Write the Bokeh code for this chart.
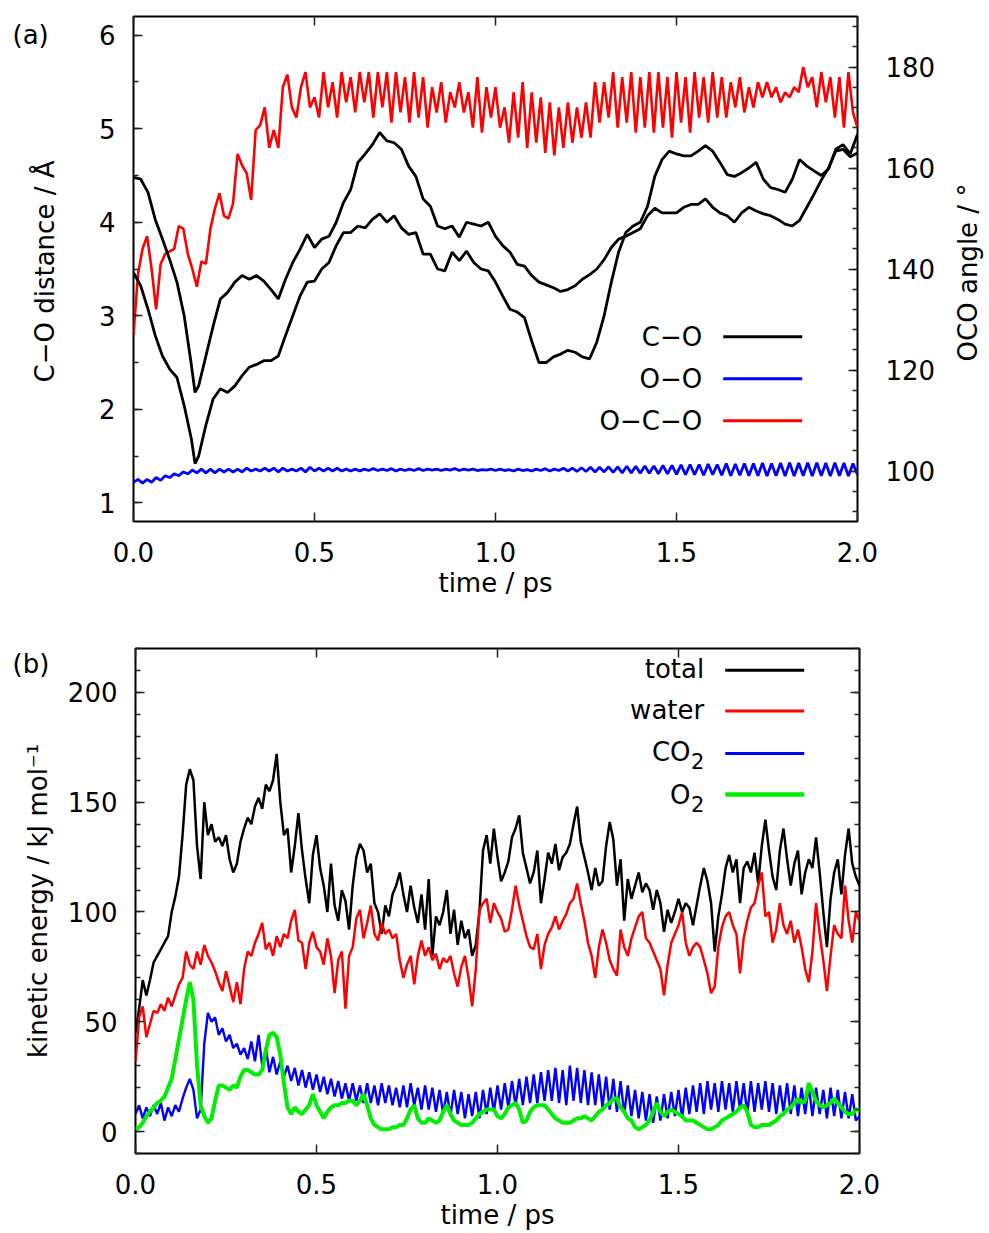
import numpy as np
from bokeh.plotting import figure
from bokeh.models import (Range1d, LinearAxis, SingleIntervalTicker, PrintfTickFormatter,
                          CustomJSTickFormatter, Label, Arrow)
from bokeh.layouts import column, row
from bokeh.embed import file_html
from bokeh.resources import INLINE

# ---------------- data: panel (a) ----------------
t_co = [round(0.02 * i, 2) for i in range(101)]
t_co.insert(9, 0.17)
co_1 = [4.48, 4.46, 4.32, 4.03, 3.82, 3.60, 3.36, 3.00, 2.47, 2.18,
        2.25, 2.57, 2.89, 3.18, 3.25, 3.36, 3.43, 3.39, 3.43, 3.37,
        3.28, 3.18, 3.39, 3.57, 3.71, 3.87, 3.73, 3.82, 3.85, 4.00,
        4.21, 4.35, 4.64, 4.73, 4.83, 4.96, 4.87, 4.85, 4.78, 4.60,
        4.49, 4.25, 4.17, 3.96, 3.93, 3.96, 3.84, 4.00, 3.98, 3.96,
        4.00, 3.85, 3.75, 3.68, 3.55, 3.53, 3.43, 3.36, 3.33, 3.30,
        3.26, 3.28, 3.32, 3.39, 3.44, 3.50, 3.60, 3.73, 3.82, 3.85,
        3.89, 3.93, 4.07, 4.15, 4.10, 4.10, 4.10, 4.16, 4.19, 4.19,
        4.25, 4.16, 4.10, 4.07, 4.00, 4.10, 4.16, 4.12, 4.09, 4.07,
        4.03, 3.98, 3.96, 4.02, 4.16, 4.30, 4.45, 4.58, 4.76, 4.78,
        4.70, 4.74]
co_2 = [3.46, 3.32, 3.07, 2.79, 2.57, 2.43, 2.34, 2.04, 1.68, 1.42,
        1.50, 1.83, 2.11, 2.22, 2.18, 2.25, 2.36, 2.45, 2.48, 2.52,
        2.52, 2.57, 2.79, 3.00, 3.21, 3.36, 3.37, 3.50, 3.57, 3.75,
        3.89, 3.89, 3.96, 3.94, 4.03, 4.09, 4.00, 4.07, 3.94, 3.87,
        3.89, 3.66, 3.66, 3.50, 3.48, 3.68, 3.59, 3.69, 3.57, 3.50,
        3.48, 3.36, 3.21, 3.07, 3.04, 2.98, 2.73, 2.50, 2.50, 2.56,
        2.59, 2.63, 2.61, 2.56, 2.54, 2.72, 3.00, 3.36, 3.68, 3.89,
        3.96, 4.00, 4.17, 4.49, 4.67, 4.76, 4.73, 4.71, 4.71, 4.76,
        4.82, 4.76, 4.64, 4.51, 4.49, 4.53, 4.58, 4.64, 4.46, 4.37,
        4.35, 4.32, 4.46, 4.67, 4.60, 4.55, 4.50, 4.57, 4.78, 4.83,
        4.73, 4.94]
t_fast = np.linspace(0.0, 2.0, 161)
oo = [1.22, 1.25, 1.21, 1.25, 1.22, 1.27, 1.24, 1.29, 1.27, 1.31,
      1.29, 1.33, 1.31, 1.35, 1.32, 1.36, 1.32, 1.36, 1.32, 1.36,
      1.33, 1.36, 1.33, 1.36, 1.33, 1.37, 1.34, 1.36, 1.34, 1.37,
      1.34, 1.37, 1.33, 1.37, 1.34, 1.36, 1.34, 1.37, 1.33, 1.38,
      1.34, 1.37, 1.34, 1.37, 1.34, 1.37, 1.34, 1.36, 1.34, 1.36,
      1.34, 1.36, 1.345, 1.365, 1.345, 1.36, 1.345, 1.365, 1.34, 1.36,
      1.345, 1.36, 1.345, 1.365, 1.345, 1.36, 1.35, 1.36, 1.345, 1.36,
      1.35, 1.365, 1.345, 1.36, 1.35, 1.36, 1.345, 1.355, 1.35, 1.36,
      1.345, 1.36, 1.345, 1.355, 1.34, 1.36, 1.345, 1.355, 1.34, 1.36,
      1.345, 1.365, 1.34, 1.36, 1.345, 1.37, 1.34, 1.37, 1.335, 1.375,
      1.335, 1.38, 1.33, 1.38, 1.33, 1.385, 1.325, 1.385, 1.32, 1.39,
      1.32, 1.39, 1.315, 1.395, 1.315, 1.395, 1.31, 1.40, 1.31, 1.40,
      1.305, 1.405, 1.30, 1.41, 1.30, 1.41, 1.295, 1.415, 1.30, 1.41,
      1.295, 1.42, 1.29, 1.415, 1.295, 1.42, 1.29, 1.42, 1.29, 1.425,
      1.285, 1.42, 1.29, 1.425, 1.285, 1.43, 1.285, 1.425, 1.29, 1.43,
      1.285, 1.43, 1.29, 1.425, 1.285, 1.43, 1.29, 1.425, 1.285, 1.42,
      1.30]
oco = [127, 139, 144, 146.5, 140, 132, 141, 143, 143.5, 144,
       148.5, 148, 143, 140, 136.5, 141.5, 141, 148, 152, 155,
       150.5, 150, 153, 162.8, 160.5, 159, 153.7, 167.5, 168.5, 172,
       164, 167.5, 164, 176, 178.5, 172, 170, 176, 179, 172,
       174, 170, 179, 172, 177, 170, 179, 173, 178, 171,
       179, 173, 179, 170, 179, 172, 179, 169, 179, 171,
       178, 169, 179, 170, 178, 168, 176, 171, 177, 169,
       175, 172, 177, 171, 175, 168, 178, 167, 176, 170,
       176, 168, 172, 165, 175, 166, 177, 164, 175, 165,
       174, 163, 173, 162.5, 172, 164, 173, 165, 172, 166,
       173, 166, 177, 169, 177, 170, 179, 168, 178, 169,
       179, 167, 178, 168, 179, 167, 179, 168, 178, 166,
       179, 169, 178, 167, 179, 170, 178, 169, 179, 170,
       178, 170, 177, 172, 178, 171, 176, 172, 177, 174,
       177, 174, 176, 173, 175, 174, 176, 175, 180, 176,
       178, 172, 179, 173, 178, 170, 178, 168, 179, 171,
       168]

# ---------------- data: panel (b) ----------------
t_b = np.linspace(0.0, 2.0, 201)
ke_total = [45, 56, 69, 62, 69, 77, 80, 83, 86, 89,
            100, 107, 116, 135, 158, 165, 160, 130, 115, 150,
            135, 140, 132, 134, 130, 135, 124, 118, 122, 132,
            138, 143, 140, 148, 152, 147, 158, 155, 160, 172,
            150, 135, 138, 118, 130, 145, 128, 115, 104, 126,
            135, 120, 112, 100, 122, 103, 96, 110, 105, 92,
            112, 125, 131, 128, 118, 122, 104, 100, 90, 103,
            98, 108, 112, 118, 108, 100, 112, 102, 95, 108,
            92, 115, 80, 98, 94, 100, 110, 90, 101, 85,
            96, 88, 92, 80, 85, 100, 128, 135, 122, 138,
            125, 114, 118, 123, 134, 138, 144, 127, 120, 113,
            118, 128, 104, 115, 127, 122, 131, 119, 125, 127,
            131, 140, 148, 132, 125, 118, 110, 120, 112, 114,
            130, 141, 133, 112, 124, 96, 115, 106, 112, 118,
            109, 113, 110, 101, 110, 104, 91, 101, 95, 100,
            106, 100, 104, 102, 94, 103, 112, 120, 114, 104,
            82, 98, 108, 120, 126, 118, 124, 104, 120, 123,
            118, 127, 113, 130, 142, 128, 116, 110, 128, 138,
            124, 112, 122, 128, 108, 118, 124, 120, 134, 118,
            100, 84, 106, 118, 124, 108, 126, 138, 122, 116,
            112]
ke_water = [32, 52, 57, 43, 49, 55, 54, 58, 55, 61,
            57, 62, 67, 70, 82, 76, 74, 82, 76, 85,
            80, 77, 73, 68, 64, 73, 66, 59, 68, 58,
            74, 82, 80, 86, 90, 95, 83, 86, 80, 89,
            84, 90, 88, 96, 101, 87, 86, 74, 86, 91,
            84, 82, 76, 88, 80, 63, 78, 82, 56, 80,
            84, 97, 101, 88, 95, 103, 90, 87, 95, 90,
            92, 88, 90, 78, 70, 76, 80, 67, 80, 87,
            80, 84, 78, 81, 74, 79, 77, 80, 72, 66,
            75, 80, 70, 57, 74, 101, 104, 106, 95, 104,
            100, 97, 91, 92, 101, 112, 103, 96, 89, 84,
            83, 90, 74, 85, 90, 93, 98, 92, 96, 99,
            104, 106, 113, 104, 96, 86, 80, 70, 84, 92,
            86, 78, 74, 71, 92, 84, 80, 88, 93, 98,
            100, 88, 86, 82, 78, 74, 62, 76, 86, 90,
            94, 100, 86, 80, 84, 86, 84, 78, 72, 63,
            66, 84, 93, 98, 100, 94, 90, 72, 88, 96,
            102, 104, 112, 118, 98, 100, 86, 92, 104, 94,
            90, 96, 86, 92, 84, 74, 68, 82, 104, 90,
            78, 64, 80, 94, 90, 88, 112, 96, 86, 100,
            96]
ke_co2 = [8, 12, 6, 11, 7, 12, 8, 13, 5, 11,
          7, 12, 9, 15, 20, 24, 19, 6, 10, 40,
          54, 50, 52, 44, 47, 41, 44, 38, 40, 35,
          38, 33, 41, 32, 44, 30, 38, 27, 34, 26,
          32, 25, 30, 23, 29, 21, 28, 20, 27, 19,
          26, 18, 25, 17, 24, 16, 23, 15, 22, 14,
          22, 14, 21, 13, 22, 13, 21, 12, 22, 13,
          21, 12, 20, 11, 21, 11, 22, 12, 20, 10,
          21, 10, 20, 9, 19, 8, 18, 7, 19, 8,
          18, 6, 17, 7, 18, 6, 19, 8, 20, 9,
          21, 10, 22, 11, 23, 12, 24, 12, 25, 13,
          26, 13, 27, 14, 28, 14, 29, 13, 28, 12,
          30, 14, 29, 13, 28, 12, 27, 12, 26, 11,
          25, 10, 24, 9, 23, 8, 21, 7, 19, 6,
          18, 5, 17, 4, 16, 5, 17, 6, 18, 7,
          19, 6, 20, 8, 21, 9, 22, 8, 23, 10,
          22, 9, 23, 10, 22, 9, 23, 10, 22, 8,
          23, 9, 22, 10, 23, 9, 22, 8, 21, 9,
          22, 8, 21, 7, 20, 8, 21, 7, 20, 8,
          19, 6, 20, 7, 19, 6, 18, 6, 17, 5,
          7]
ke_o2 = [1, 2, 4, 7, 9, 11, 13, 14, 16, 20,
         24, 33, 42, 51, 60, 68, 60, 30, 12, 7,
         4, 6, 14, 21, 21, 20, 19, 21, 20, 25,
         28, 28, 27, 26, 26, 28, 37, 44, 45, 43,
         35, 22, 11, 8, 11, 9, 8, 10, 12, 17,
         12, 9, 6, 9, 11, 12, 12, 13, 13, 14,
         14, 12, 14, 17, 12, 6, 3, 2, 1, 1,
         1, 2, 2, 3, 3, 6, 10, 12, 6, 4,
         4, 6, 5, 4, 5, 9, 12, 8, 5, 4,
         3, 3, 3, 4, 6, 8, 9, 10, 10, 10,
         7, 6, 8, 11, 12, 13, 10, 4, 5, 9,
         11, 12, 12, 12, 10, 8, 6, 5, 4, 4,
         4, 5, 6, 6, 7, 6, 5, 7, 9, 10,
         12, 13, 15, 15, 11, 9, 6, 5, 2, 1,
         2, 3, 5, 9, 13, 9, 7, 9, 10, 9,
         8, 7, 5, 5, 5, 4, 3, 2, 1, 1,
         2, 3, 5, 6, 7, 8, 9, 11, 12, 9,
         3, 2, 2, 3, 3, 3, 4, 5, 7, 8,
         10, 11, 13, 15, 13, 14, 22, 18, 14, 12,
         11, 12, 13, 15, 13, 11, 9, 8, 8, 10,
         10]

legend_a = ["C\u2212O", "O\u2212O", "O\u2212C\u2212O"]
legend_a_colors = ["black", "#0000ff", "#ff0000"]

# ---------------- styling ----------------
FONT = "DejaVu Sans"
TS = "26px"
FW, FH = 724, 505
GREEN = "#00ee00"
LEFT_STRIP, RIGHT_STRIP = 64, 42
BL, BR = 69, 90
A_TOP, A_BOT = 16, 90
B_TOP, B_BOT = 37, 78
HA = A_TOP + FH + A_BOT
HB = B_TOP + FH + B_BOT


def style_axis(ax):
    ax.axis_line_color = None
    ax.major_tick_in = 9
    ax.major_tick_out = 0
    ax.minor_tick_in = 5
    ax.minor_tick_out = 0
    ax.major_tick_line_color = "#222222"
    ax.major_tick_line_width = 1.5
    ax.minor_tick_line_color = "#222222"
    ax.minor_tick_line_width = 1.5
    ax.major_label_text_font = FONT
    ax.major_label_text_font_size = TS
    ax.major_label_text_color = "black"
    ax.axis_label_text_font = FONT
    ax.axis_label_text_font_size = TS
    ax.axis_label_text_font_style = "normal"
    ax.axis_label_text_color = "black"


def blank_axis(ax):
    ax.formatter = CustomJSTickFormatter(code="return ''")
    ax.major_label_text_font_size = "0px"
    ax.major_label_standoff = 0


def make_fig(y0, y1, top, bottom):
    p = figure(frame_width=FW, frame_height=FH, x_range=Range1d(0, 2), y_range=Range1d(y0, y1),
               output_backend="svg", toolbar_location=None,
               min_border_left=BL, min_border_right=BR,
               min_border_top=top, min_border_bottom=bottom)
    p.xgrid.visible = False
    p.ygrid.visible = False
    p.outline_line_color = "black"
    p.outline_line_width = 2
    p.outline_line_alpha = 1.0
    p.background_fill_color = "white"
    p.border_fill_color = "white"
    xa = p.xaxis[0]
    style_axis(xa)
    xa.ticker = SingleIntervalTicker(interval=0.5, num_minor_ticks=0)
    xa.minor_tick_line_color = None
    xa.formatter = PrintfTickFormatter(format="%.1f")
    xa.axis_label = "time / ps"
    xa.major_label_standoff = 20
    xa.axis_label_standoff = 3
    top_ax = LinearAxis(ticker=SingleIntervalTicker(interval=0.5, num_minor_ticks=0))
    style_axis(top_ax)
    top_ax.minor_tick_line_color = None
    blank_axis(top_ax)
    p.add_layout(top_ax, "above")
    ya = p.yaxis[0]
    style_axis(ya)
    ya.major_label_standoff = 18
    return p


def strip(width, height):
    s = figure(width=width, height=height, x_range=Range1d(0, 1), y_range=Range1d(0, 1),
               output_backend="svg", toolbar_location=None, title=None,
               x_axis_location=None, y_axis_location=None,
               min_border_left=0, min_border_right=0, min_border_top=0, min_border_bottom=0)
    s.outline_line_color = None
    s.grid.visible = False
    s.background_fill_color = "white"
    s.border_fill_color = "white"
    return s


def txt(p, x, y, s, size=TS, align="right", baseline="middle", angle=0.0):
    p.add_layout(Label(x=x, y=y, x_units="screen", y_units="screen", text=s,
                       text_font=FONT, text_font_size=size, text_color="black",
                       text_align=align, text_baseline=baseline, angle=angle))


def key_line(p, y, color, width):
    p.add_layout(Arrow(end=None, x_start=589.7, y_start=y, x_end=668.7, y_end=y,
                       start_units="screen", end_units="screen",
                       line_color=color, line_width=width))


# ---------------- panel (a) ----------------
pa = make_fig(0.8, 6.2, A_TOP, A_BOT)
pa.yaxis[0].ticker = SingleIntervalTicker(interval=1, num_minor_ticks=2)
pa.extra_y_ranges = {"ang": Range1d(90, 190)}
ax_r = LinearAxis(y_range_name="ang", ticker=SingleIntervalTicker(interval=20, num_minor_ticks=5))
style_axis(ax_r)
ax_r.major_label_standoff = 28
pa.add_layout(ax_r, "right")

pa.line(t_fast, oco, line_color="#ff0000", line_width=2.6, y_range_name="ang")
pa.line(t_co, co_1, line_color="black", line_width=2.8)
pa.line(t_co, co_2, line_color="black", line_width=2.8)
pa.line(t_fast, oo, line_color="#0000ff", line_width=2.8)

for i, (lab, col) in enumerate(zip(legend_a, legend_a_colors)):
    yy = FH - 320.3 - 42 * i
    txt(pa, 568.7, yy, lab)
    key_line(pa, yy, col, 3)

# side strips share the plot frame's vertical extent (frame page y 16..521)
la = strip(LEFT_STRIP, HA)
txt(la, 12, FH - 3.5, "(a)", align="left", baseline="top")
txt(la, 44, FH - 255, "C\u2212O distance / \u00c5", align="center", baseline="alphabetic", angle=np.pi / 2)
ra = strip(RIGHT_STRIP, HA)
txt(ra, 20, FH - 256, "OCO angle / \u00b0", align="center", baseline="alphabetic", angle=np.pi / 2)

# ---------------- panel (b) ----------------
pb = make_fig(-10, 220, B_TOP, B_BOT)
pb.yaxis[0].ticker = SingleIntervalTicker(interval=50, num_minor_ticks=5)
ax_rb = LinearAxis(ticker=SingleIntervalTicker(interval=50, num_minor_ticks=5))
style_axis(ax_rb)
blank_axis(ax_rb)
pb.add_layout(ax_rb, "right")

pb.line(t_b, ke_total, line_color="black", line_width=2.5)
pb.line(t_b, ke_water, line_color="#ff0000", line_width=2.5)
pb.line(t_b, ke_co2, line_color="#0000ff", line_width=2.4)
pb.line(t_b, ke_o2, line_color=GREEN, line_width=4)

rows_b = [FH - 21.7, FH - 62.4, FH - 105, FH - 146]
txt(pb, 568.7, rows_b[0] + 1, "total")
key_line(pb, rows_b[0], "black", 3)
txt(pb, 568.7, rows_b[1] + 1, "water")
key_line(pb, rows_b[1], "#ff0000", 3)
txt(pb, 555.0, rows_b[2] + 1.5, "CO")
txt(pb, 555.5, rows_b[2] - 7.5, "2", size="21px", align="left")
key_line(pb, rows_b[2], "#0000ff", 3)
txt(pb, 555.0, rows_b[3], "O")
txt(pb, 555.5, rows_b[3] - 9, "2", size="21px", align="left")
key_line(pb, rows_b[3], GREEN, 4.5)

lb = strip(LEFT_STRIP, HB)
txt(lb, 12, FH - 1.5, "(b)", align="left", baseline="top")
txt(lb, 37, FH - 253.5, "kinetic energy / kJ mol\u207b\u00b9", align="center", baseline="alphabetic", angle=np.pi / 2)

layout = column(row(la, pa, ra), row(lb, pb))
open("out.html", "w").write(file_html(layout, INLINE))
